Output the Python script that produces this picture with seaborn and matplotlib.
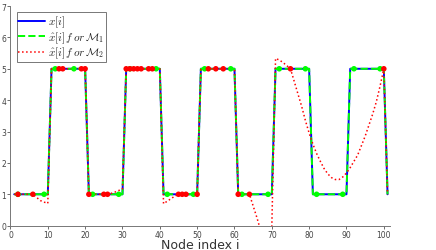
import matplotlib
matplotlib.use("Agg")
import matplotlib.pyplot as plt
import seaborn as sns

# node indices 1..101
nodes = list(range(1, 102))

# true signal x[i]
x_true = [
    1, 1, 1, 1, 1, 1, 1, 1, 1, 1,
    5, 5, 5, 5, 5, 5, 5, 5, 5, 5,
    1, 1, 1, 1, 1, 1, 1, 1, 1, 1,
    5, 5, 5, 5, 5, 5, 5, 5, 5, 5,
    1, 1, 1, 1, 1, 1, 1, 1, 1, 1,
    5, 5, 5, 5, 5, 5, 5, 5, 5, 5,
    1, 1, 1, 1, 1, 1, 1, 1, 1, 1,
    5, 5, 5, 5, 5, 5, 5, 5, 5, 5,
    1, 1, 1, 1, 1, 1, 1, 1, 1, 1,
    5, 5, 5, 5, 5, 5, 5, 5, 5, 5,
    1,
]

# reconstruction with M1 is exact
x_hat_m1 = list(x_true)

# reconstruction with M2
x_hat_m2 = [
    1, 1, 1, 1, 1, 1, 0.9, 0.8, 0.75, 0.71,
    5, 5, 5, 5, 5, 5, 5, 5, 5, 5,
    1, 1, 1, 1, 1, 1, 1.03, 1.07, 1.12, 1.17,
    5, 5, 5, 5, 5, 5, 5, 5, 5, 5,
    0.7, 0.78, 0.86, 0.94, 1, 1, 1, 1, 1, 1,
    5, 5, 5, 5, 5, 5, 5, 5, 5, 5,
    1, 1, 1, 1, 0.63, 0.26, -0.15, -1.0, -1.2, -0.05,
    5.33, 5.28, 5.2, 5.1, 5.0, 4.6, 4.2, 3.8, 3.35, 2.95,
    2.6, 2.3, 2.05, 1.82, 1.65, 1.53, 1.47, 1.47, 1.55, 1.68,
    1.85, 2.05, 2.25, 2.55, 2.85, 3.2, 3.55, 3.95, 4.45, 5.0,
    1,
]

# sampled nodes for each sampling set
m1_nodes = [2, 9, 12, 17, 22, 29, 32, 39, 42, 49, 52, 59, 62, 69, 72, 79, 82, 89, 92, 99]
m2_nodes = [2, 6, 13, 14, 19, 20, 21, 25, 26, 31, 32, 33, 34, 35, 37, 38,
            45, 46, 47, 50, 53, 55, 57, 61, 64, 75, 100]

x_ticks = [0, 10, 20, 30, 40, 50, 60, 70, 80, 90, 100]
y_ticks = [0, 1, 2, 3, 4, 5, 6, 7]

sns.set_style("ticks")
plt.rcParams["mathtext.fontset"] = "cm"
plt.rcParams["font.family"] = ["DejaVu Sans"]

fig = plt.figure(figsize=(4.36, 2.51), dpi=100)
ax = fig.add_axes([0.024, 0.097, 0.87, 0.875])

sns.lineplot(x=nodes, y=x_true, ax=ax, color="#0000ff", linewidth=1.4,
             label=r"$x[i]$")
sns.lineplot(x=nodes, y=x_hat_m1, ax=ax, color="#00ff00", linewidth=1.4,
             linestyle="--", label=r"$\hat{x}[i]\,f\,or\,\mathcal{M}_1$")
sns.lineplot(x=nodes, y=x_hat_m2, ax=ax, color="#ff0000", linewidth=1.1,
             linestyle=":", label=r"$\hat{x}[i]\,f\,or\,\mathcal{M}_2$")

sns.scatterplot(x=m1_nodes, y=[x_true[n - 1] for n in m1_nodes], ax=ax,
                color="#00ff00", s=16, edgecolor="none", zorder=4)
sns.scatterplot(x=m2_nodes, y=[x_true[n - 1] for n in m2_nodes], ax=ax,
                color="#ff0000", s=16, edgecolor="none", zorder=5)

ax.set_xlim(0, 101.6)
ax.set_ylim(0, 7)
ax.set_xticks(x_ticks)
ax.set_yticks(y_ticks)
ax.tick_params(labelsize=5.5, length=2, width=0.6, colors="#555555",
               labelcolor="#444444", pad=1.2)
ax.set_xlabel("Node index i", fontsize=9, color="#333333", labelpad=-0.5)
ax.set_ylabel("")
for side in ["left", "bottom"]:
    ax.spines[side].set_color("#777777")
    ax.spines[side].set_linewidth(0.7)
sns.despine(ax=ax)

leg = ax.legend(loc="upper left", fontsize=8, handlelength=2.4,
                fancybox=False, framealpha=1, edgecolor="#777777",
                borderpad=0.15, labelspacing=0.0, handletextpad=0.3,
                borderaxespad=0.55)
leg.get_frame().set_linewidth(0.7)

fig.savefig("out.png", dpi=100)
